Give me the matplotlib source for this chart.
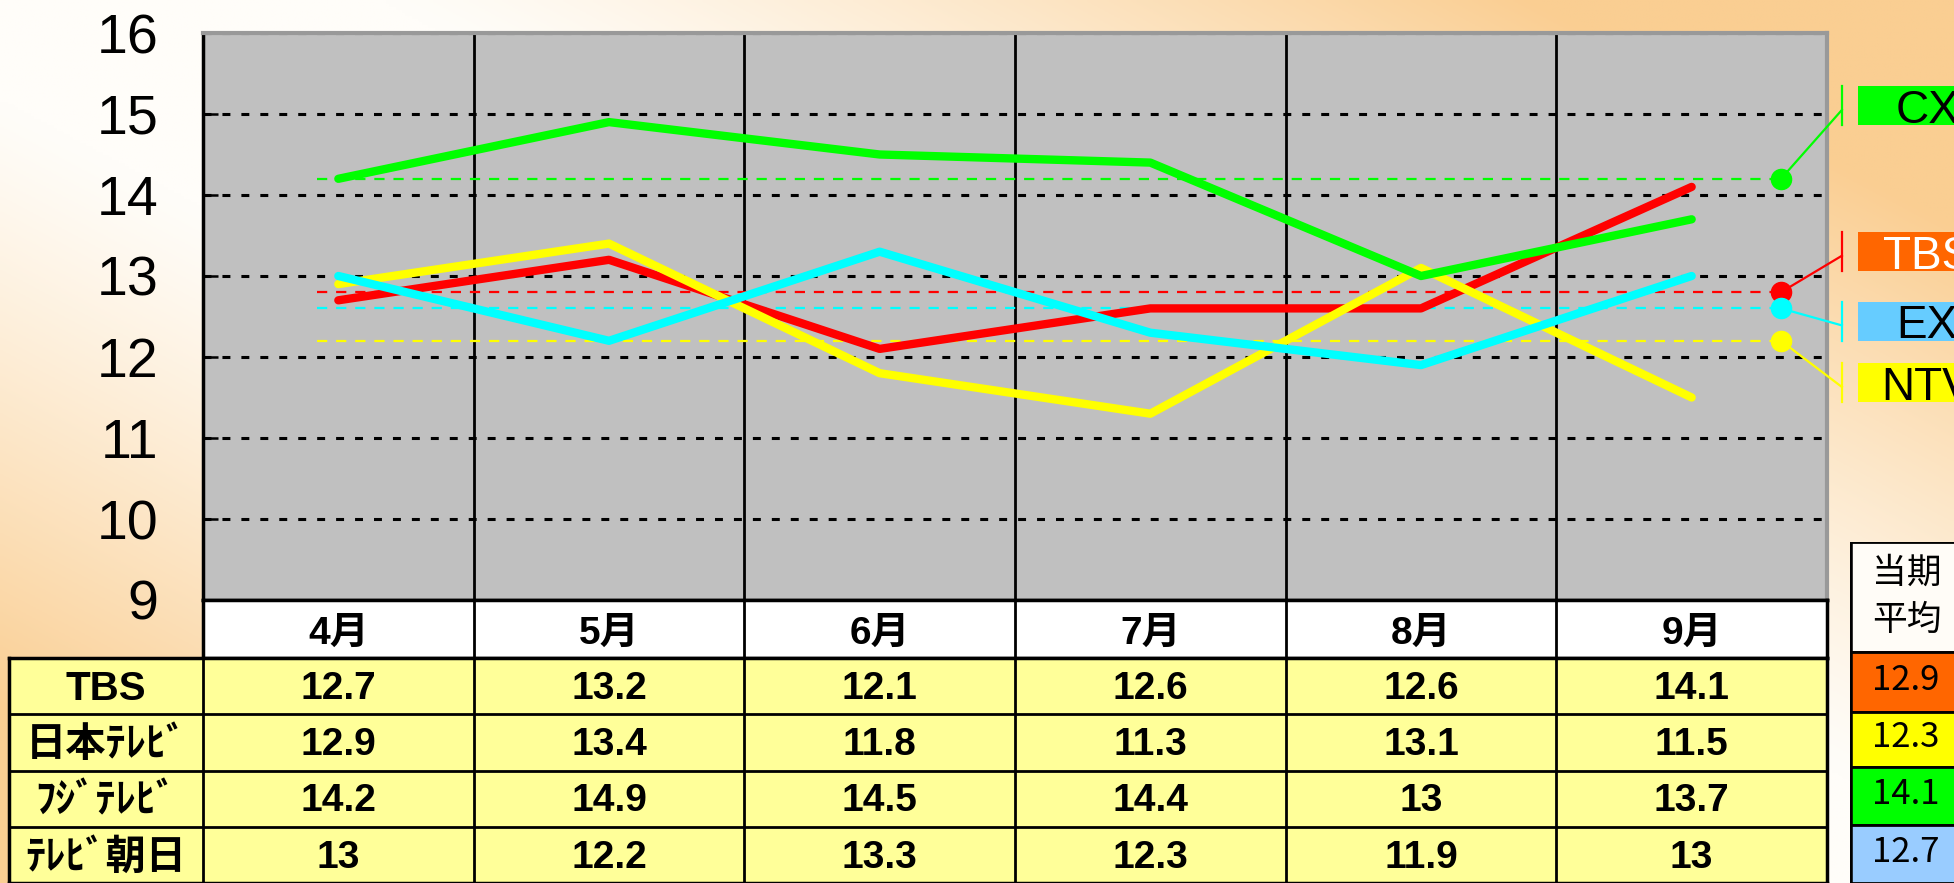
import numpy as np
import matplotlib
matplotlib.use('Agg')
import matplotlib.pyplot as plt
from matplotlib.patches import Rectangle

W, H = 1954, 883

months = ['4月', '5月', '6月', '7月', '8月', '9月']
tbs = [12.7, 13.2, 12.1, 12.6, 12.6, 14.1]
ntv = [12.9, 13.4, 11.8, 11.3, 13.1, 11.5]
cx = [14.2, 14.9, 14.5, 14.4, 13.0, 13.7]
ex = [13.0, 12.2, 13.3, 12.3, 11.9, 13.0]
row_names = ['TBS', '日本ﾃﾚﾋﾞ', 'ﾌｼﾞﾃﾚﾋﾞ', 'ﾃﾚﾋﾞ朝日']
ref_vals = [12.8, 12.2, 14.2, 12.6]          # dashed reference lines (TBS, NTV, CX, EX)
tags = ['TBS', 'NTV', 'CX', 'EX']
tag_y = [13.3, 11.68, 15.1, 12.44]            # where the side labels sit
avg_head = '当期\n平均'
avg_vals = ['12.9', '12.3', '14.1', '12.7']

line_colors = ['#FF0000', '#FFFF00', '#00FF00', '#00FFFF']
tag_colors = ['#FF6600', '#FFFF00', '#00FF00', '#66CCFF']
tag_text = ['white', 'black', 'black', 'black']
avg_colors = ['#FF6600', '#FFFF00', '#00FF00', '#99CCFF']

plt.rcParams['font.family'] = ['Liberation Sans', 'Noto Sans CJK JP', 'DejaVu Sans']

fig = plt.figure(figsize=(W / 100, H / 100), dpi=100)

# background gradient
bg = fig.add_axes([0, 0, 1, 1])
v, u = np.mgrid[0:1:300j, 0:1:600j]
t = np.clip(np.abs(u - 0.85 * v - 0.05) * 1.7 - 0.25, 0, 1) ** 1.2
c0 = np.array([255, 253, 249]) / 255
c1 = np.array([250, 206, 146]) / 255
img = c0 + (c1 - c0) * t[..., None]
bg.imshow(img, aspect='auto', extent=[0, 1, 0, 1], origin='upper')
bg.set_axis_off()

# main plot area
L, R, T, B = 203, 1827, 33, 600
ax = fig.add_axes([L / W, 1 - B / H, (R - L) / W, (B - T) / H])
ax.set_facecolor('#C0C0C0')
ax.set_xlim(-0.5, 5.5)
ax.set_ylim(9, 16)
x = np.arange(len(months))

for yv in range(10, 17):
    ax.axhline(yv, color='black', lw=2.2, dashes=(2.6, 3.6), zorder=1)
for xv in x[:-1] + 0.5:
    ax.axvline(xv, color='black', lw=2, zorder=1)

for vals, col in zip([tbs, ntv, cx, ex], line_colors):
    ax.plot(x, vals, color=col, lw=6, solid_capstyle='round',
            solid_joinstyle='round', zorder=4)

AVG_X0, AVG_X1 = -0.08, 5.33
TAG_X = 5.555
for rv, ty, col, tcol, tag, txtc in zip(ref_vals, tag_y, line_colors,
                                         tag_colors, tags, tag_text):
    ax.plot([AVG_X0, AVG_X1], [rv, rv], color=col, lw=1.6,
            dashes=(4.6, 4.0), zorder=3)
    ax.plot([AVG_X1, TAG_X], [rv, ty - 0.05], color=col, lw=1.6,
            clip_on=False, zorder=5)
    ax.plot([TAG_X, TAG_X], [ty - 0.24, ty + 0.24], color=col, lw=1.6,
            clip_on=False, zorder=5)
    ax.plot(AVG_X1, rv, 'o', color=col, ms=14.5, clip_on=False, zorder=6)
    ax.add_patch(Rectangle((5.615, ty - 0.24), 0.51, 0.48, facecolor=tcol,
                           edgecolor='none', clip_on=False, zorder=5))
    ax.text(5.87, ty, tag, color=txtc, fontsize=33, ha='center',
            va='center_baseline', clip_on=False, zorder=6)

ax.set_yticks(range(9, 17))
ax.set_xticks([])
ax.tick_params(axis='y', direction='in', length=11, width=1.8, pad=32,
               labelsize=40)
for s in ['left', 'bottom']:
    ax.spines[s].set_linewidth(2.5)
    ax.spines[s].set_color('black')
for s in ['top', 'right']:
    ax.spines[s].set_linewidth(3)
    ax.spines[s].set_color('#999999')

# month header row
hax = fig.add_axes([L / W, 1 - 658 / H, (R - L) / W, 58 / H])
hax.set_facecolor('white')
hax.set_xlim(-0.5, 5.5)
hax.set_ylim(0, 1)
for xv in x[:-1] + 0.5:
    hax.axvline(xv, color='black', lw=2)
for i, m in enumerate(months):
    hax.text(i, 0.42, m, fontsize=28, fontweight='bold', ha='center',
             va='center')
hax.set_xticks([])
hax.set_yticks([])
for s in hax.spines.values():
    s.set_linewidth(2.5)

# data table
colw = (R - L) / 6
lab_w = (L - 9) / colw
tax = fig.add_axes([9 / W, 0, (R - 9) / W, (H - 658) / H])
tax.set_facecolor('#FFFF99')
tax.set_xlim(-0.5 - lab_w, 5.5)
tax.set_ylim(4, 0)
for yv in range(1, 4):
    tax.axhline(yv, color='black', lw=2)
for xv in np.arange(-0.5, 5.0, 1.0):
    tax.axvline(xv, color='black', lw=2)
for r, (name, vals) in enumerate(zip(row_names, [tbs, ntv, cx, ex])):
    tax.text(-0.5 - lab_w / 2, r + 0.55, name, fontsize=29, fontweight='bold',
             ha='center', va='center')
    for i, vv in enumerate(vals):
        tax.text(i, r + 0.55, f'{vv:g}', fontsize=28, fontweight='bold',
                 ha='center', va='center')
tax.set_xticks([])
tax.set_yticks([])
for s in tax.spines.values():
    s.set_linewidth(2.5)

# period average table (right)
rax = fig.add_axes([1850 / W, 0, 200 / W, (H - 542) / H])
rax.set_xlim(0, 200)
rax.set_ylim(H - 542, 0)
rax.set_axis_off()
rows = [(0, 110, '#FFFCF7'), (110, 170, avg_colors[0]), (170, 225, avg_colors[1]),
        (225, 283, avg_colors[2]), (283, 341, avg_colors[3])]
for y0, y1, fc in rows:
    rax.add_patch(Rectangle((0, y0), 200, y1 - y0, facecolor=fc,
                            edgecolor='black', lw=2))
rax.plot([0, 0], [0, 341], color='black', lw=4)
rax.text(22, 55, avg_head, fontsize=25, family='Noto Sans CJK JP',
         ha='left', va='center', linespacing=1.45)
for (y0, y1, fc), val in zip(rows[1:], avg_vals):
    rax.text(22, (y0 + y1) / 2 - 2, val, fontsize=25,
             family='Noto Sans CJK JP', ha='left', va='center')

fig.savefig('out.png', dpi=100)
